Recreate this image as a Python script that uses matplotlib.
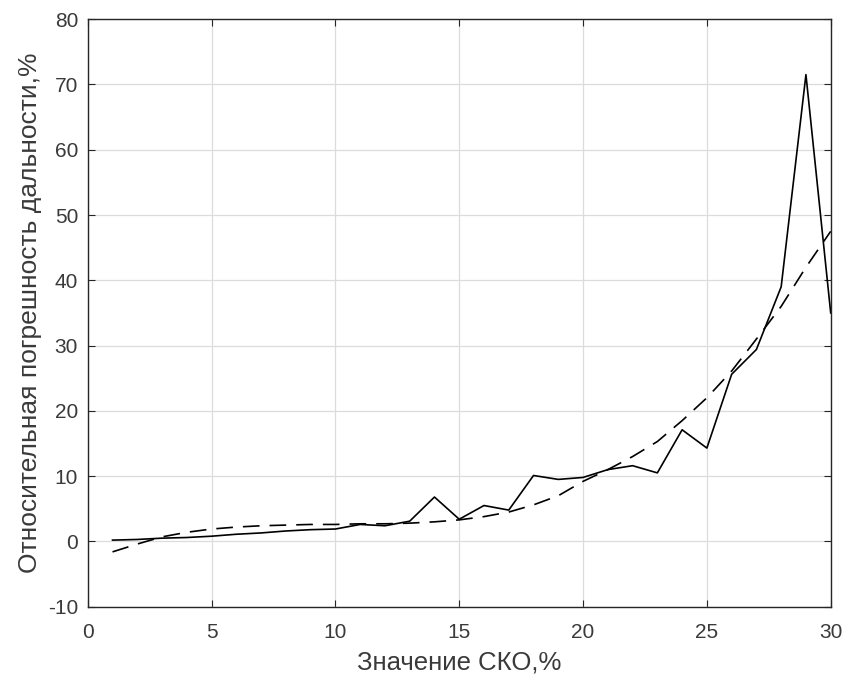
import numpy as np
import matplotlib
matplotlib.use("Agg")
import matplotlib.pyplot as plt

plt.rcParams['font.family'] = ['Liberation Sans', 'DejaVu Sans']
plt.rcParams['axes.unicode_minus'] = False

# СКО, %
sko = np.arange(1, 31)

# measured relative range error, %
err_measured = [0.2, 0.3, 0.5, 0.6, 0.8, 1.1, 1.3, 1.6, 1.8, 1.9,
                2.6, 2.4, 3.1, 6.8, 3.4, 5.5, 4.8, 10.1, 9.5, 9.8,
                11.0, 11.6, 10.5, 17.1, 14.3, 25.6, 29.4, 39.0, 71.5, 35.0]

# approximation (dashed)
err_approx = [-1.6, -0.4, 0.7, 1.4, 1.9, 2.2, 2.4, 2.5, 2.6, 2.6,
              2.7, 2.7, 2.8, 3.0, 3.3, 3.8, 4.5, 5.6, 7.0, 9.2,
              11.0, 13.0, 15.3, 18.5, 22.0, 26.1, 31.0, 36.0, 42.0, 47.5]

xticks = [0, 5, 10, 15, 20, 25, 30]
yticks = [-10, 0, 10, 20, 30, 40, 50, 60, 70, 80]

fig = plt.figure(figsize=(8.52, 6.84), dpi=100)
ax = fig.add_axes([0.103, 0.113, 0.872, 0.859])

ax.plot(sko, err_measured, color='black', linewidth=1.2)
ax.plot(sko, err_approx, color='black', linewidth=1.2, dashes=(10, 6))

ax.set_xlim(0, 30)
ax.set_ylim(-10, 80)
ax.set_xticks(xticks)
ax.set_yticks(yticks)
ax.grid(True, color='#dcdcdc', linewidth=0.9)
ax.set_axisbelow(True)
ax.tick_params(direction='in', top=True, right=True, length=5,
               labelsize=15, labelcolor='#3a3a3a', color='#262626')
ax.tick_params(axis='x', pad=12)
ax.tick_params(axis='y', pad=7)
for s in ax.spines.values():
    s.set_color('#262626')
    s.set_linewidth(1.0)

ax.set_xlabel('Значение СКО,%', fontsize=18.5, color='#3a3a3a', labelpad=6)
ax.set_ylabel('Относительная погрешность дальности,%', fontsize=19,
              color='#3a3a3a', labelpad=4)

fig.savefig('out.png', dpi=100)
